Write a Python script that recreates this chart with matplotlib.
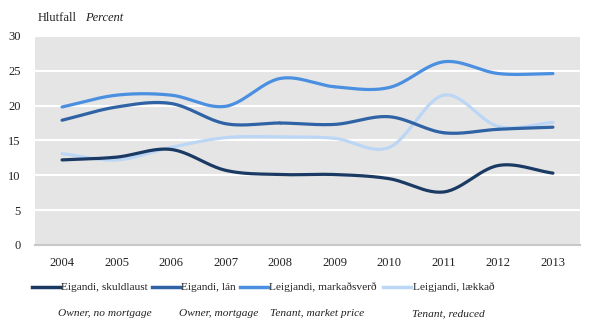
import numpy as np
import matplotlib.pyplot as plt
from matplotlib.lines import Line2D

plt.rcParams['font.family'] = ['Liberation Serif', 'DejaVu Serif']

years = [2004, 2005, 2006, 2007, 2008, 2009, 2010, 2011, 2012, 2013]
owner_free = [12.2, 12.6, 13.7, 10.7, 10.1, 10.1, 9.5, 7.6, 11.4, 10.3]
owner_mortgage = [17.9, 19.8, 20.3, 17.4, 17.5, 17.3, 18.4, 16.1, 16.6, 16.9]
tenant_market = [19.8, 21.5, 21.5, 19.9, 23.9, 22.7, 22.6, 26.3, 24.6, 24.6]
tenant_reduced = [13.1, 12.2, 14.0, 15.4, 15.5, 15.3, 14.0, 21.5, 17.0, 17.6]

labels_is = ['Eigandi, skuldlaust', 'Eigandi, lán', 'Leigjandi, markaðsverð', 'Leigjandi, lækkað']
labels_en = ['Owner, no mortgage', 'Owner, mortgage', 'Tenant, market price', 'Tenant, reduced']
colors = ['#1b3a63', '#2f63a5', '#4a8fe0', '#bcd6f5']


def smooth(x, y, n=30):
    # catmull-rom, roughly what excel does for "smoothed line"
    x = np.asarray(x, float)
    y = np.asarray(y, float)
    px = np.concatenate([[2 * x[0] - x[1]], x, [2 * x[-1] - x[-2]]])
    py = np.concatenate([[2 * y[0] - y[1]], y, [2 * y[-1] - y[-2]]])
    xs, ys = [], []
    t = np.linspace(0, 1, n)
    for i in range(1, len(px) - 2):
        for p, out in ((px, xs), (py, ys)):
            p0, p1, p2, p3 = p[i - 1], p[i], p[i + 1], p[i + 2]
            out.append(0.5 * (2 * p1 + (-p0 + p2) * t
                              + (2 * p0 - 5 * p1 + 4 * p2 - p3) * t ** 2
                              + (-p0 + 3 * p1 - 3 * p2 + p3) * t ** 3))
    return np.concatenate(xs), np.concatenate(ys)


fig = plt.figure(figsize=(6, 3.3), dpi=100)
ax = fig.add_axes([0.058, 0.258, 0.909, 0.633])
ax.set_facecolor('#e5e5e5')

series = [owner_free, owner_mortgage, tenant_market, tenant_reduced]
zorders = [5, 4, 3, 3.5]
for i in range(4):
    sx, sy = smooth(years, series[i])
    ax.plot(sx, sy, color=colors[i], lw=2.3, solid_capstyle='round', zorder=zorders[i])

ax.set_xlim(2003.5, 2013.5)
ax.set_ylim(0, 30)
ax.set_yticks(range(0, 31, 5))
ax.set_xticks(years)
ax.tick_params(length=0, labelsize=9, colors='#222222')
ax.tick_params(axis='x', pad=9)
ax.tick_params(axis='y', pad=10)
ax.grid(axis='y', color='white', lw=1.5)
ax.set_axisbelow(True)
for s in ['top', 'right', 'left']:
    ax.spines[s].set_visible(False)
ax.spines['bottom'].set_color('#c8c8c8')
ax.spines['bottom'].set_linewidth(1.5)

fig.text(0.062, 0.935, 'Hlutfall', fontsize=9, color='#222222')
fig.text(0.142, 0.935, 'Percent', fontsize=9, style='italic', color='#222222')

# legend row drawn by hand: icelandic label next to line, english in italics below
handle_x = [(32, 60), (152, 180), (240, 268), (383, 411)]
text_x = [61, 181, 269, 413]
en_cx = [105, 219, 317, 448]
y_row = 1 - 287 / 330
y_en = 1 - 314 / 330
for i in range(4):
    x0, x1 = handle_x[i]
    fig.add_artist(Line2D([x0 / 600, x1 / 600], [y_row, y_row], color=colors[i], lw=2.5,
                          transform=fig.transFigure))
    fig.text(text_x[i] / 600, y_row, labels_is[i], fontsize=8.2, va='center', color='#222222')
    fig.text(en_cx[i] / 600, y_en, labels_en[i], fontsize=8.2, style='italic', ha='center',
             va='center', color='#222222')

fig.savefig('out.png', dpi=100, facecolor='white')
